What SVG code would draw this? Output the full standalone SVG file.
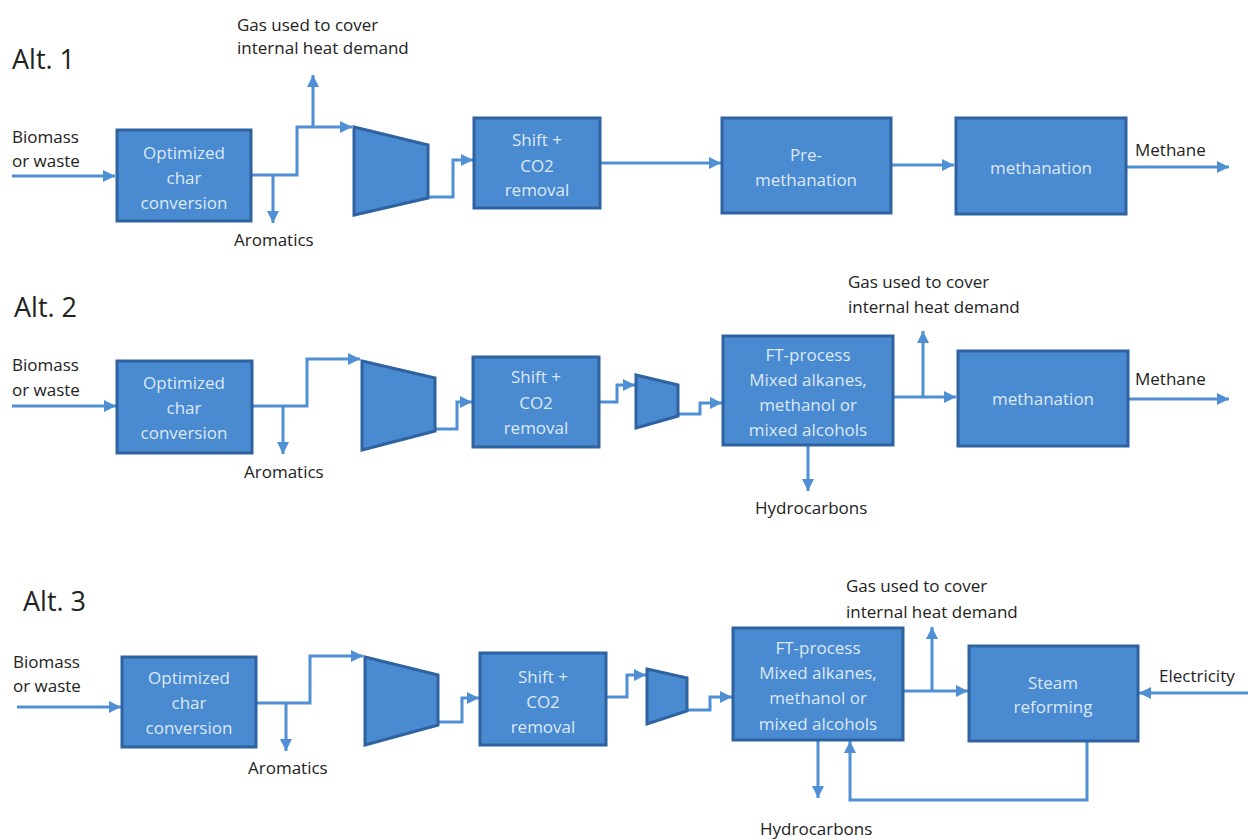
<svg xmlns="http://www.w3.org/2000/svg" width="1248" height="839" viewBox="0 0 1248 839">
<style>
.box{fill:#4a8ad0;stroke:#2f62a0;stroke-width:3}
.bt{font-family:"Open Sans","Liberation Sans",sans-serif;font-size:17px;fill:#dce9f7;text-anchor:middle}
.lt{font-family:"Open Sans","Liberation Sans",sans-serif;font-size:17px;fill:#222}
.alt{font-family:"Open Sans","Liberation Sans",sans-serif;font-size:27px;fill:#222}
.ln{fill:none;stroke:#4f8fd4;stroke-width:3;marker-end:url(#ah)}
</style>
<defs>
<marker id="ah" markerUnits="userSpaceOnUse" markerWidth="12" markerHeight="12" refX="10" refY="5" viewBox="0 0 10 10" orient="auto"><path d="M0,0 L10,5 L0,10 Z" fill="#4f8fd4"/></marker>
</defs>
<rect width="1248" height="839" fill="#ffffff"/>
<g id="labels">
<text class="alt" x="12" y="69">Alt. 1</text>
<text class="alt" x="14" y="317">Alt. 2</text>
<text class="alt" x="23" y="611">Alt. 3</text>
<text class="lt" x="12" y="143">Biomass</text>
<text class="lt" x="12" y="167">or waste</text>
<text class="lt" x="12" y="371">Biomass</text>
<text class="lt" x="12" y="396">or waste</text>
<text class="lt" x="13" y="668">Biomass</text>
<text class="lt" x="13" y="692">or waste</text>
<text class="lt" x="237" y="31">Gas used to cover</text>
<text class="lt" x="237" y="54">internal heat demand</text>
<text class="lt" x="848" y="288">Gas used to cover</text>
<text class="lt" x="848" y="313">internal heat demand</text>
<text class="lt" x="846" y="592">Gas used to cover</text>
<text class="lt" x="846" y="618">internal heat demand</text>
<text class="lt" x="234" y="246">Aromatics</text>
<text class="lt" x="244" y="478">Aromatics</text>
<text class="lt" x="248" y="774">Aromatics</text>
<text class="lt" x="755" y="514">Hydrocarbons</text>
<text class="lt" x="760" y="835">Hydrocarbons</text>
<text class="lt" x="1135" y="156">Methane</text>
<text class="lt" x="1135" y="385">Methane</text>
<text class="lt" x="1159" y="682">Electricity</text>
</g>
<g id="connectors">
<path class="ln" d="M12,176 H115"/>
<path class="ln" d="M251,175 H297 V127 H352"/>
<path class="ln" d="M273,175 V223"/>
<path class="ln" d="M313,127 V75"/>
<path class="ln" d="M428,197 H453 V160 H473"/>
<path class="ln" d="M600,163 H721"/>
<path class="ln" d="M891,165 H954"/>
<path class="ln" d="M1126,167 H1229"/>
<path class="ln" d="M12,406 H116"/>
<path class="ln" d="M252,406 H307 V359 H360"/>
<path class="ln" d="M283,406 V454"/>
<path class="ln" d="M435,429 H457 V402 H472"/>
<path class="ln" d="M599,402 H617 V385 H635"/>
<path class="ln" d="M678,414 H700 V403 H722"/>
<path class="ln" d="M893,397 H956"/>
<path class="ln" d="M923,397 V331"/>
<path class="ln" d="M808,445 V491"/>
<path class="ln" d="M1128,399 H1229"/>
<path class="ln" d="M17,707 H121"/>
<path class="ln" d="M256,703 H310 V656 H363"/>
<path class="ln" d="M286,703 V751"/>
<path class="ln" d="M438,722 H462 V698 H479"/>
<path class="ln" d="M606,697 H627 V675 H646"/>
<path class="ln" d="M687,710 H710 V697 H732"/>
<path class="ln" d="M903,691 H968"/>
<path class="ln" d="M932,691 V627"/>
<path class="ln" d="M818,740 V798"/>
<path class="ln" d="M1087,741 V800 H850 V741"/>
<path class="ln" d="M1248,693 H1139"/>
</g>
<g id="a1-char"><rect class="box" x="117" y="130" width="134" height="91"/><text class="bt" x="184" y="159">Optimized</text><text class="bt" x="184" y="184">char</text><text class="bt" x="184" y="209">conversion</text></g>
<g id="a1-comp"><polygon class="box" points="354,127 428,145 428,198 354,215"/></g>
<g id="a1-shift"><rect class="box" x="474" y="118" width="126" height="90"/><text class="bt" x="537" y="146">Shift +</text><text class="bt" x="537" y="172">CO2</text><text class="bt" x="537" y="196">removal</text></g>
<g id="a1-pre"><rect class="box" x="722" y="118" width="169" height="95"/><text class="bt" x="806" y="161">Pre-</text><text class="bt" x="806" y="186">methanation</text></g>
<g id="a1-meth"><rect class="box" x="956" y="118" width="170" height="96"/><text class="bt" x="1041" y="174">methanation</text></g>
<g id="a2-char"><rect class="box" x="117" y="361" width="135" height="92"/><text class="bt" x="184" y="389">Optimized</text><text class="bt" x="184" y="414">char</text><text class="bt" x="184" y="439">conversion</text></g>
<g id="a2-comp"><polygon class="box" points="362,361 435,378 435,431 362,450"/></g>
<g id="a2-shift"><rect class="box" x="473" y="357" width="126" height="90"/><text class="bt" x="536" y="383">Shift +</text><text class="bt" x="536" y="409">CO2</text><text class="bt" x="536" y="434">removal</text></g>
<g id="a2-comp2"><polygon class="box" points="636,375 678,385 678,416 636,428"/></g>
<g id="a2-ft"><rect class="box" x="723" y="336" width="170" height="109"/><text class="bt" x="808" y="361">FT-process</text><text class="bt" x="808" y="386">Mixed alkanes,</text><text class="bt" x="808" y="411">methanol or</text><text class="bt" x="808" y="436">mixed alcohols</text></g>
<g id="a2-meth"><rect class="box" x="958" y="351" width="170" height="95"/><text class="bt" x="1043" y="405">methanation</text></g>
<g id="a3-char"><rect class="box" x="122" y="657" width="134" height="90"/><text class="bt" x="189" y="684">Optimized</text><text class="bt" x="189" y="709">char</text><text class="bt" x="189" y="734">conversion</text></g>
<g id="a3-comp"><polygon class="box" points="365,657 438,675 438,725 365,745"/></g>
<g id="a3-shift"><rect class="box" x="480" y="653" width="126" height="92"/><text class="bt" x="543" y="683">Shift +</text><text class="bt" x="543" y="708">CO2</text><text class="bt" x="543" y="733">removal</text></g>
<g id="a3-comp2"><polygon class="box" points="647,669 687,678 687,711 647,724"/></g>
<g id="a3-ft"><rect class="box" x="733" y="628" width="170" height="112"/><text class="bt" x="818" y="654">FT-process</text><text class="bt" x="818" y="679">Mixed alkanes,</text><text class="bt" x="818" y="704">methanol or</text><text class="bt" x="818" y="730">mixed alcohols</text></g>
<g id="a3-steam"><rect class="box" x="969" y="646" width="169" height="95"/><text class="bt" x="1053" y="689">Steam</text><text class="bt" x="1053" y="713">reforming</text></g>
</svg>
